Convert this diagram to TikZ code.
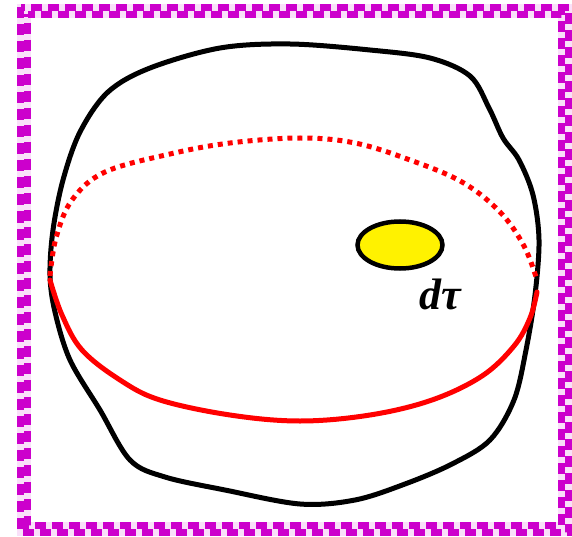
\documentclass[tikz,border=0pt]{standalone}
\usepackage{fontspec}
\setmainfont{Liberation Serif}
\usetikzlibrary{shapes.geometric}
\begin{document}
\begin{tikzpicture}[x=1pt,y=-1pt,
  frameA/.style={draw=violet!40!magenta, line width=7pt, dash pattern=on 11pt off 6pt},
  frameB/.style={draw=violet!40!magenta, line width=7pt, dash pattern=on 11pt off 6pt, dash phase=8.5pt},
  outline/.style={draw=black, line width=5pt, line join=round},
  redsolid/.style={draw=red, line width=5pt, line cap=round},
  reddot/.style={draw=red, line width=5pt, dash pattern=on 5pt off 5pt}]
\useasboundingbox (0,0) rectangle (572,537);
% frame
\fill[violet!40!magenta!12] (17,4) rectangle (572,536);
\fill[white] (31,18) rectangle (558,522);
\draw[frameA] (20.5,7.5) rectangle (568.5,532.5);
\draw[frameB] (27.5,14.5) rectangle (561.5,525.5);
% outer body
\draw[outline] plot[smooth cycle, tension=0.55] coordinates {
 (290,44) (220,48) (150,68) (108,92) (80,132) (63,180) (53,230) (50,275) (55,312)
 (70,360) (100,410) (130,460) (165,477) (225,490) (300,504) (355,500) (405,484)
 (452,464) (490,440) (514,400) (526,350) (535,295) (539,240) (533,195) (519,160)
 (503,138) (489,108) (470,76) (430,58) (370,50)};
% equator back (dotted)
\draw[reddot] plot[smooth, tension=0.6] coordinates {
 (50,276) (56,238) (72,200) (105,172) (170,154) (230,143) (300,138) (355,143)
 (410,160) (462,182) (500,212) (524,246) (537,280)};
% equator front
\draw[redsolid] plot[smooth, tension=0.6] coordinates {
 (50,280) (62,315) (82,350) (120,380) (160,400) (230,415) (300,421) (370,415)
 (432,400) (482,376) (514,346) (530,318) (537,292)};
% element
\node[draw=black, line width=4.5pt, fill=yellow, ellipse, minimum width=85pt, minimum height=47pt, inner sep=0pt] (el) at (400,245) {};
\node[font=\fontsize{44}{48}\selectfont\bfseries\itshape, inner sep=0pt] (lab) at (440,294) {dτ};
\end{tikzpicture}
\end{document}
